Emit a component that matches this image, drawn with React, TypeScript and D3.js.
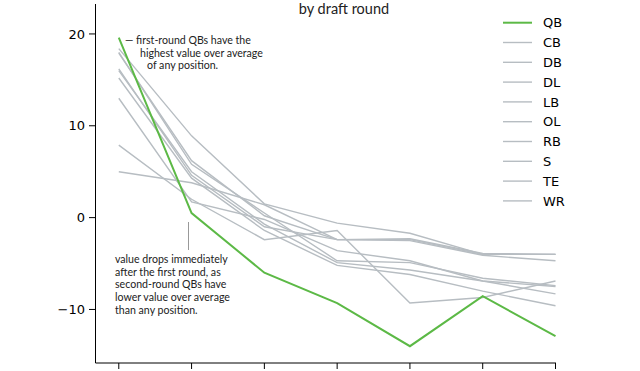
import React from 'react';
import * as d3 from 'd3';

const rounds = [1, 2, 3, 4, 5, 6, 7];
const positions = ['QB', 'CB', 'DB', 'DL', 'LB', 'OL', 'RB', 'S', 'TE', 'WR'];
const qb = [19.6, 0.5, -6.0, -9.3, -14.0, -8.55, -12.9];
const cb = [18.4, 8.9, 1.5, -0.6, -1.7, -4.0, -4.0];
const db = [17.9, 6.2, 0.2, -2.4, -2.3, -3.9, -4.0];
const dl = [16.2, 4.6, -1.0, -2.4, -2.5, -4.1, -4.7];
const lb = [16.0, 5.0, -0.7, -4.9, -5.7, -6.9, -7.5];
const ol = [15.2, 4.3, -1.4, -5.2, -6.2, -8.0, -9.6];
const rb = [13.0, 1.7, -0.2, -3.6, -4.7, -6.9, -8.3];
const s = [7.9, 2.0, -2.4, -1.4, -9.3, -8.7, -6.9];
const te = [5.0, 3.8, 1.4, -2.4, -2.4, -4.0, -4.0];
const wr = [18.0, 5.8, 0.5, -4.7, -4.9, -6.6, -7.4];
const yTicks = [20, 10, 0, -10];

const seriesList = [qb, cb, db, dl, lb, ol, rb, s, te, wr];

const GREEN = '#5cb946';
const GRAY = '#b7bdc2';

const App = () => {
  const x = d3.scaleLinear().domain([0.68, 7]).range([95.5, 555.5]);
  const y = d3.scaleLinear().domain([-15.83, 23.26]).range([363, 4]);

  const line = d3
    .line<number>()
    .x((_, i) => x(rounds[i]))
    .y((d) => y(d));

  const tickFont = '"DejaVu Sans", sans-serif';
  const noteFont = 'Lato, "Open Sans", sans-serif';

  return (
    <svg
      width={640}
      height={371}
      style={{ position: 'absolute', left: 0, top: 0, background: '#fff' }}
    >
      <text x={344} y={14} textAnchor="middle" fontFamily={noteFont} fontSize={14.5} fill="#222">
        by draft round
      </text>

      {/* gray lines first, QB on top */}
      {seriesList.slice(1).map((d, i) => (
        <path key={positions[i + 1]} d={line(d) || ''} fill="none" stroke={GRAY} strokeWidth={1.4} />
      ))}
      <path d={line(qb) || ''} fill="none" stroke={GREEN} strokeWidth={2} />

      {/* axes */}
      <line x1={95.5} x2={95.5} y1={4} y2={363} stroke="#000" strokeWidth={1} />
      <line x1={95.5} x2={556} y1={363} y2={363} stroke="#000" strokeWidth={1} />
      {yTicks.map((t) => (
        <g key={t} transform={`translate(0,${y(t)})`}>
          <line x1={89} x2={95.5} stroke="#000" strokeWidth={1} />
          <text x={85} dy="0.36em" textAnchor="end" fontFamily={tickFont} fontSize={13} fill="#000">
            {t < 0 ? `\u2212${-t}` : t}
          </text>
        </g>
      ))}
      {rounds.map((r) => (
        <line key={r} x1={x(r)} x2={x(r)} y1={363} y2={369} stroke="#000" strokeWidth={1} />
      ))}

      {/* legend */}
      {positions.map((p, i) => (
        <g key={p} transform={`translate(503,${22.7 + i * 19.8})`}>
          <line x1={0} x2={29} stroke={i === 0 ? GREEN : GRAY} strokeWidth={i === 0 ? 2 : 1.4} />
          <text x={40} dy="0.36em" fontFamily={tickFont} fontSize={13} fill="#000">
            {p}
          </text>
        </g>
      ))}

      {/* annotations */}
      <g fontFamily={noteFont} fontSize={10.6} fill="#222">
        <text x={125} y={44}>— first-round QBs have the</text>
        <text x={140} y={57}>highest value over average</text>
        <text x={147} y={69}>of any position.</text>
      </g>
      <line x1={188.5} x2={188.5} y1={222} y2={250} stroke="#999" strokeWidth={1} />
      <g fontFamily={noteFont} fontSize={10.6} fill="#222">
        <text x={115} y={263}>value drops immediately</text>
        <text x={115} y={275.5}>after the first round, as</text>
        <text x={115} y={288}>second-round QBs have</text>
        <text x={115} y={301}>lower value over average</text>
        <text x={115} y={313.5}>than any position.</text>
      </g>
    </svg>
  );
};

export default App;
